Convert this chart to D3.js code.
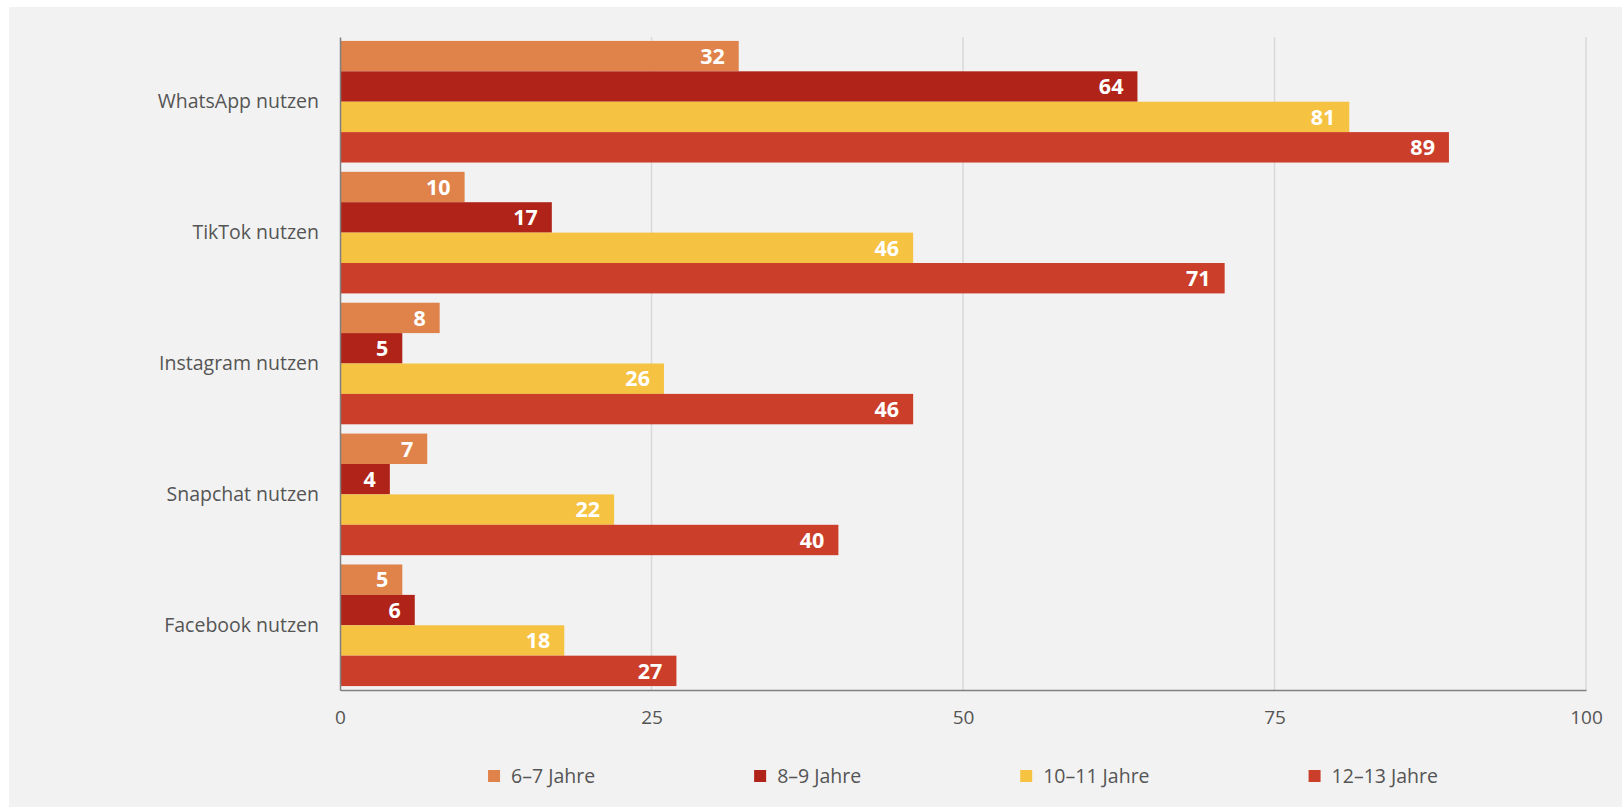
<!DOCTYPE html>
<html lang="de">
<head>
<meta charset="UTF-8">
<title>Social Media Nutzung</title>
<script src="https://d3js.org/d3.v7.min.js"></script>
<style>
  body { margin: 0; background: #fff; }
  text { font-family: "Open Sans", "Noto Sans", sans-serif; }
</style>
</head>
<body>
<div id="chart"></div>
<script>
// data
var categories = ["WhatsApp nutzen", "TikTok nutzen", "Instagram nutzen", "Snapchat nutzen", "Facebook nutzen"];
var series = ["6–7 Jahre", "8–9 Jahre", "10–11 Jahre", "12–13 Jahre"];
var age67 = [32, 10, 8, 7, 5];
var age89 = [64, 17, 5, 4, 6];
var age1011 = [81, 46, 26, 22, 18];
var age1213 = [89, 71, 46, 40, 27];
var ticks = [0, 25, 50, 75, 100];
var colors = ["#e0834a", "#b02318", "#f5c242", "#cb3e2a"];

var values = [age67, age89, age1011, age1213];

var W = 1622, H = 807;
var margin = {top: 37, right: 36, bottom: 117, left: 340};
var width = W - margin.left - margin.right,
    height = H - margin.top - margin.bottom;

var svg = d3.select("#chart").append("svg")
    .attr("width", W)
    .attr("height", H);

// grey panel
svg.append("rect")
    .attr("x", 9).attr("y", 7)
    .attr("width", W - 9).attr("height", H - 7)
    .attr("fill", "#f2f2f2");

var g = svg.append("g")
    .attr("transform", "translate(" + margin.left + "," + margin.top + ")");

var x = d3.scaleLinear().domain([0, 100]).range([0, width]);
var y0 = d3.scaleBand().domain(categories).range([0, height]).paddingInner(0.071).paddingOuter(0.03);
var y1 = d3.scaleBand().domain(series).range([0, y0.bandwidth()]);

// gridlines
g.selectAll(".grid")
    .data(ticks.slice(1))
    .enter().append("line")
    .attr("x1", function(d) { return x(d); })
    .attr("x2", function(d) { return x(d); })
    .attr("y1", 0).attr("y2", height)
    .attr("stroke", "#d9d9d9")
    .attr("stroke-width", 1.5);

var rows = [];
categories.forEach(function(c, i) {
    series.forEach(function(s, j) {
        rows.push({cat: c, ser: s, j: j, v: values[j][i]});
    });
});

g.selectAll(".bar")
    .data(rows)
    .enter().append("rect")
    .attr("x", 0)
    .attr("y", function(d) { return y0(d.cat) + y1(d.ser); })
    .attr("width", function(d) { return x(d.v); })
    .attr("height", y1.bandwidth())
    .attr("fill", function(d) { return colors[d.j]; });

g.selectAll(".lbl")
    .data(rows)
    .enter().append("text")
    .attr("x", function(d) { return x(d.v) - 14; })
    .attr("y", function(d) { return y0(d.cat) + y1(d.ser) + y1.bandwidth() / 2; })
    .attr("dy", "0.36em")
    .attr("text-anchor", "end")
    .attr("fill", "#fff")
    .attr("font-weight", "bold")
    .attr("font-size", "21.5px")
    .text(function(d) { return d.v; });

// axes
var xAxis = g.append("g")
    .attr("transform", "translate(0," + height + ")")
    .call(d3.axisBottom(x).tickValues(ticks).tickSize(0).tickPadding(21));
xAxis.select(".domain").attr("stroke", "#808080").attr("stroke-width", 1.5);
xAxis.selectAll("text").attr("font-size", "19px").attr("fill", "#555")
    .style("font-family", "'Open Sans', sans-serif");

var yAxis = g.append("g")
    .call(d3.axisLeft(y0).tickSize(0).tickPadding(21));
yAxis.select(".domain").attr("stroke", "#808080").attr("stroke-width", 1.5);
yAxis.selectAll("text").attr("font-size", "19.5px").attr("fill", "#555")
    .style("font-family", "'Open Sans', sans-serif");

// legend, items spaced by their text width and centred under the plot
var legend = svg.append("g");
var item = legend.selectAll(".leg")
    .data(series)
    .enter().append("g");
item.append("rect")
    .attr("x", 0).attr("y", -6)
    .attr("width", 12).attr("height", 12)
    .attr("fill", function(d, i) { return colors[i]; });
item.append("text")
    .attr("x", 23).attr("dy", "0.36em")
    .attr("font-size", "19.5px")
    .attr("fill", "#555")
    .text(function(d) { return d; });

var pos = 0, total = 0;
item.each(function(d, i) {
    var len = this.querySelector("text").getComputedTextLength();
    d3.select(this).attr("transform", "translate(" + pos + ",0)");
    total = pos + 23 + len;
    pos += 23 + len + 159;
});
legend.attr("transform", "translate(" + (margin.left + width / 2 - total / 2) + ",776)");
</script>
</body>
</html>
